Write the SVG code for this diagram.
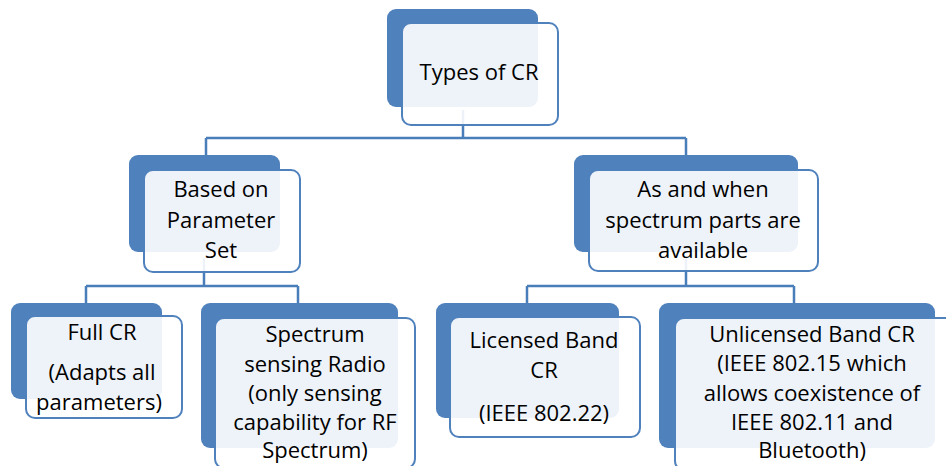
<svg xmlns="http://www.w3.org/2000/svg" width="946" height="466" viewBox="0 0 946 466">
<style>
.back{fill:#4F81BD;}
.front{fill:#FFFFFF;fill-opacity:0.9;stroke:#4F81BD;stroke-width:2;}
.conn{fill:none;stroke:#4A7EBB;stroke-width:2.5;}
text{font-family:"Open Sans","Liberation Sans",sans-serif;font-size:22px;fill:#000;text-anchor:middle;}
</style>
<rect width="946" height="466" fill="#FFFFFF"/>
<g id="connectors">
<path class="conn" d="M463,110 V138 M206,138 H686 M206,138 V156 M686,138 V156"/>
<path class="conn" d="M204,258 V286 M86,286 H298 M86,286 V304 M298,286 V304"/>
<path class="conn" d="M686,258 V286 M527,286 H794 M527,286 V304 M794,286 V304"/>
</g>
<g id="node-types">
<rect class="back" x="387" y="9" width="151" height="98" rx="9"/>
<rect class="front" x="402" y="23" width="156" height="102" rx="9"/>
<text x="479" y="80">Types of CR</text>
</g>
<g id="node-parameter">
<rect class="back" x="129" y="155" width="151" height="97" rx="9"/>
<rect class="front" x="144" y="170" width="156" height="102" rx="9"/>
<text x="221" y="197">Based on</text>
<text x="221" y="228">Parameter</text>
<text x="221" y="258">Set</text>
</g>
<g id="node-spectrum-parts">
<rect class="back" x="574" y="155" width="224" height="97" rx="9"/>
<rect class="front" x="589" y="170" width="229" height="101" rx="9"/>
<text x="703" y="197">As and when</text>
<text x="703" y="228">spectrum parts are</text>
<text x="703" y="258">available</text>
</g>
<g id="node-full-cr">
<rect class="back" x="11" y="303" width="151" height="96" rx="9"/>
<rect class="front" x="26" y="316" width="156" height="102" rx="9"/>
<text x="102" y="340">Full CR</text>
<text x="102" y="380">(Adapts all</text>
<text x="99" y="410">parameters)</text>
</g>
<g id="node-sensing-radio">
<rect class="back" x="201" y="303" width="197" height="145" rx="9"/>
<rect class="front" x="215" y="318" width="200" height="150" rx="9"/>
<text x="315" y="342">Spectrum</text>
<text x="315" y="372">sensing Radio</text>
<text x="315" y="401">(only sensing</text>
<text x="315" y="430">capability for RF</text>
<text x="315" y="458">Spectrum)</text>
</g>
<g id="node-licensed">
<rect class="back" x="436" y="303" width="183" height="115" rx="9"/>
<rect class="front" x="450" y="317" width="190" height="120" rx="9"/>
<text x="544" y="348">Licensed Band</text>
<text x="544" y="378">CR</text>
<text x="544" y="421">(IEEE 802.22)</text>
</g>
<g id="node-unlicensed">
<rect class="back" x="659" y="303" width="276" height="145" rx="9"/>
<rect class="front" x="675" y="318" width="280" height="152" rx="9"/>
<text x="812" y="342">Unlicensed Band CR</text>
<text x="812" y="371">(IEEE 802.15 which</text>
<text x="812" y="401">allows coexistence of</text>
<text x="812" y="430">IEEE 802.11 and</text>
<text x="812" y="458">Bluetooth)</text>
</g>
</svg>
